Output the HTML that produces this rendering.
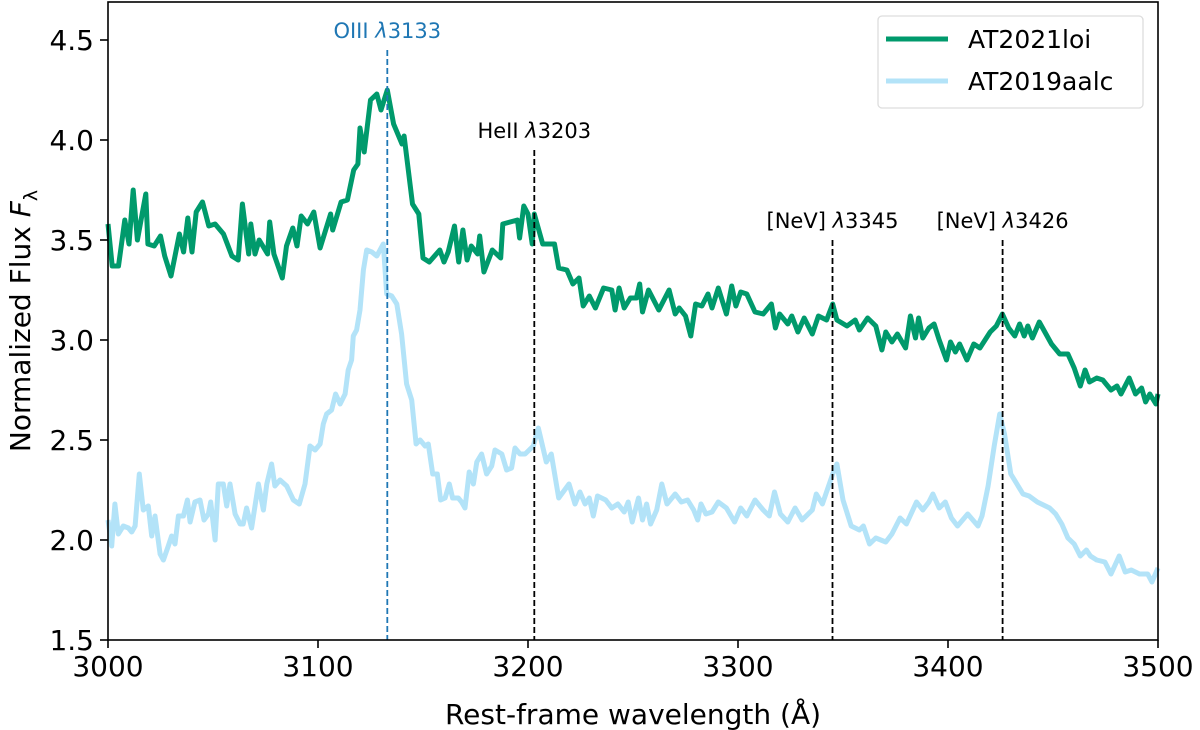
<!DOCTYPE html>
<html><head><meta charset="utf-8"><style>
html,body{margin:0;padding:0;background:#fff;}
svg{display:block;font-family:"DejaVu Sans","Liberation Sans",sans-serif;}
</style></head><body>
<svg id="chart" width="1200" height="730" viewBox="0 0 1200 730" xmlns="http://www.w3.org/2000/svg">
<g id="series"></g>
<g id="lines"></g>
<rect x="108" y="2" width="1050" height="638" fill="none" stroke="#000" stroke-width="1.6"/>
<g id="axes"></g>
<text x="633" y="724" font-size="28" text-anchor="middle">Rest-frame wavelength (Å)</text>
<text transform="translate(30,321) rotate(-90)" font-size="28" text-anchor="middle">Normalized Flux <tspan font-style="italic">F</tspan><tspan font-size="19" dy="7">λ</tspan></text>
<g>
<rect x="878" y="16" width="265" height="92" rx="4" fill="#fff" stroke="#ddd" stroke-width="1.3"/>
<line x1="886" y1="39" x2="948" y2="39" stroke="#009a6c" stroke-width="5"/>
<text x="968" y="48" font-size="25">AT2021loi</text>
<line x1="886" y1="81" x2="948" y2="81" stroke="#b3e3f8" stroke-width="5"/>
<text x="968" y="90" font-size="25">AT2019aalc</text>
</g>
</svg>
<script>
const xTicks=[3000,3100,3200,3300,3400,3500];
const yTicks=[1.5,2.0,2.5,3.0,3.5,4.0,4.5];
const yTickLabels=["1.5","2.0","2.5","3.0","3.5","4.0","4.5"];
const lineWaves=[3133,3203,3345,3426];
const lineNames=["OIII ","HeII ","[NeV] ","[NeV] "];
const lineNums=["3133","3203","3345","3426"];
const lineTops=[4.45,3.95,3.5,3.5];
const greenWave=[3000,3002,3005,3008,3010,3012,3014,3018,3019,3022,3025,3027,3030,3034,3036,3038,3040,3042,3045,3048,3051,3055,3059,3062,3064,3067,3068,3070,3072,3076,3077,3079,3083,3085,3088,3090,3092,3095,3098,3101,3106,3107,3111,3114,3117,3119,3120,3122,3125,3128,3130,3133,3136,3140,3141,3145,3148,3150,3153,3158,3160,3162,3165,3167,3169,3171,3173,3176,3177,3179,3183,3187,3188,3195,3196,3198,3200,3202,3203,3207,3212.6,3214.6,3218.5,3221.4,3224.3,3226.3,3229.2,3232.1,3236,3239.9,3241.5,3243.4,3245.8,3248.7,3251.6,3253.2,3254.5,3257.4,3262.3,3267.2,3270.1,3272,3275,3277.5,3279.8,3282.8,3285.7,3287.6,3290.6,3294.5,3297,3299,3301.3,3304.2,3308.1,3312,3315.9,3317.8,3319.8,3323.7,3325.6,3328.5,3331.5,3335.4,3338.3,3342.2,3345.1,3347.1,3351.9,3355.8,3357.8,3361.7,3365.6,3368.5,3370.4,3373.3,3375.9,3379.8,3382.1,3384.5,3386,3388,3390.9,3393.4,3395.8,3399.3,3401.2,3403.5,3405.5,3409,3412.3,3415.2,3420.1,3423,3425.9,3428.9,3431.8,3434.1,3436.3,3438,3440.2,3443.5,3449.3,3453.2,3457.1,3460.1,3463,3465.3,3467.4,3470.8,3473.7,3477.6,3480.5,3482.4,3486.3,3489.3,3492.2,3494.1,3496.1,3499,3500];
const greenFlux=[3.58,3.37,3.37,3.60,3.48,3.75,3.50,3.73,3.48,3.47,3.52,3.42,3.32,3.53,3.44,3.61,3.44,3.64,3.69,3.57,3.58,3.53,3.42,3.40,3.68,3.43,3.58,3.43,3.50,3.43,3.59,3.43,3.31,3.47,3.56,3.47,3.62,3.58,3.64,3.46,3.63,3.55,3.69,3.70,3.85,3.88,4.06,3.94,4.20,4.23,4.15,4.25,4.08,3.98,4.02,3.68,3.63,3.41,3.39,3.45,3.39,3.44,3.57,3.39,3.55,3.40,3.47,3.43,3.52,3.34,3.45,3.41,3.58,3.60,3.51,3.67,3.63,3.48,3.63,3.48,3.48,3.36,3.35,3.28,3.31,3.17,3.22,3.16,3.26,3.25,3.15,3.26,3.16,3.21,3.21,3.28,3.14,3.25,3.15,3.25,3.13,3.16,3.12,3.02,3.18,3.17,3.23,3.16,3.26,3.13,3.27,3.17,3.24,3.23,3.14,3.13,3.18,3.06,3.13,3.08,3.12,3.04,3.11,3.03,3.12,3.10,3.18,3.10,3.07,3.10,3.05,3.11,3.07,2.95,3.04,2.99,3.03,2.96,3.12,3.01,3.11,3.01,3.06,3.08,3.00,2.90,2.99,2.94,2.98,2.90,2.98,2.96,3.04,3.07,3.13,3.06,3.02,3.08,3.02,3.07,3.01,3.09,2.98,2.93,2.93,2.86,2.77,2.85,2.79,2.81,2.80,2.75,2.77,2.73,2.81,2.73,2.76,2.69,2.73,2.68,2.73];
const blueWave=[3000,3001.75,3003.3,3004.9,3007.3,3009.7,3011.3,3012.9,3014.9,3016.8,3019.2,3020.8,3022.4,3024.8,3026.4,3028.7,3030.3,3031.9,3033.5,3035.9,3037.8,3039.1,3041.4,3043.8,3045.7,3047.8,3048.9,3051,3052.5,3054.9,3056.5,3058.1,3060.5,3062.9,3064.4,3066,3068.4,3071.6,3074,3075.6,3077.9,3079.5,3081.9,3085.1,3088.3,3091.1,3093.8,3096.2,3098.6,3101,3102.5,3104.1,3106.5,3108.4,3110.5,3112.9,3114.4,3116,3116.8,3118.4,3120,3121.6,3123.2,3125.6,3128,3131.1,3132.7,3135.1,3137.5,3139.8,3142.2,3144.6,3146.7,3148.6,3151,3152.5,3154.6,3156.8,3158.4,3160.5,3162.5,3164.1,3166.8,3168.4,3170,3172,3174,3175.6,3177.9,3180.3,3182.7,3184.3,3187.5,3189.8,3192.2,3193.8,3196.2,3198.6,3202.5,3204.9,3208.7,3211.1,3214.6,3219.5,3222.4,3224.7,3227.2,3229.2,3231.1,3233.1,3237,3239.9,3242.8,3245.8,3247.7,3249.6,3252.6,3254.5,3256.5,3258.4,3261.3,3263.7,3266.2,3270.1,3273,3276,3278.9,3280.8,3282.4,3284.7,3287.6,3290.6,3294.5,3298.4,3301.3,3304.2,3308.1,3312,3314.9,3317.4,3320.2,3323.7,3327.2,3330.5,3335.4,3337.3,3340.2,3345.1,3347.1,3350,3353.9,3357.8,3359.7,3362.6,3365.6,3370.4,3373.3,3377.2,3380.2,3385,3388,3390.9,3392.8,3395.8,3398.7,3401.6,3404.5,3409.4,3414.3,3416.2,3419.1,3422,3424.6,3426.9,3429.9,3432.8,3435.7,3438.6,3442.5,3448.4,3451.3,3454.2,3457.1,3460.1,3463,3465.9,3467.8,3470.8,3474.7,3477.6,3481.5,3484.4,3487.3,3491.2,3495.1,3497.1,3500];
const blueFlux=[2.10,1.97,2.18,2.03,2.07,2.06,2.04,2.07,2.33,2.15,2.17,2.02,2.12,1.93,1.90,1.97,2.02,1.98,2.12,2.12,2.20,2.09,2.19,2.20,2.10,2.13,2.19,2.00,2.28,2.28,2.17,2.28,2.13,2.08,2.08,2.16,2.06,2.28,2.15,2.28,2.38,2.27,2.30,2.27,2.20,2.18,2.28,2.47,2.45,2.48,2.58,2.63,2.65,2.73,2.68,2.73,2.85,2.90,3.02,3.05,3.15,3.35,3.45,3.44,3.42,3.48,3.23,3.22,3.18,3.03,2.78,2.70,2.48,2.50,2.47,2.48,2.33,2.33,2.20,2.21,2.28,2.21,2.21,2.19,2.16,2.34,2.28,2.39,2.43,2.33,2.37,2.45,2.43,2.35,2.36,2.46,2.43,2.43,2.47,2.56,2.39,2.43,2.21,2.28,2.18,2.24,2.18,2.21,2.12,2.22,2.20,2.16,2.18,2.14,2.19,2.09,2.21,2.10,2.18,2.08,2.15,2.28,2.18,2.23,2.19,2.20,2.15,2.10,2.18,2.13,2.14,2.19,2.16,2.09,2.16,2.12,2.20,2.15,2.12,2.24,2.13,2.09,2.16,2.10,2.15,2.23,2.18,2.33,2.38,2.20,2.07,2.05,2.07,1.98,2.01,1.99,2.03,2.11,2.08,2.19,2.15,2.19,2.23,2.16,2.19,2.11,2.07,2.13,2.07,2.12,2.27,2.47,2.63,2.53,2.33,2.28,2.23,2.22,2.19,2.16,2.13,2.08,2.01,1.98,1.92,1.95,1.92,1.90,1.89,1.83,1.92,1.84,1.85,1.83,1.83,1.79,1.86];

const NS="http://www.w3.org/2000/svg";
const X0=108,X1=1158,Y0=640;
function xs(w){return X0+(w-3000)/500*(X1-X0);}
function ys(v){return Y0-(v-1.5)*200;}
function mk(tag,attrs,parent){const e=document.createElementNS(NS,tag);for(const k in attrs)e.setAttribute(k,attrs[k]);parent.appendChild(e);return e;}
const axes=document.getElementById('axes');
xTicks.forEach(t=>{
  const l=mk('line',{x1:xs(t),x2:xs(t),y1:Y0,y2:Y0+8,stroke:'#000','stroke-width':1.6},axes);
  
  
  const tx=mk('text',{x:xs(t),y:Y0+36,'font-size':28,'text-anchor':'middle'},axes);
  tx.textContent=String(t);
  
  
});
yTicks.forEach((t,i)=>{
  const l=mk('line',{x1:X0-8,x2:X0,y1:ys(t),y2:ys(t),stroke:'#000','stroke-width':1.6},axes);
  
  
  const tx=mk('text',{x:X0-14,y:ys(t)+10,'font-size':28,'text-anchor':'end'},axes);
  tx.textContent=yTickLabels[i];
  
  
});
const ser=document.getElementById('series');
function path(wv,fl){return wv.map((w,i)=>(i?'L':'M')+xs(w).toFixed(1)+' '+ys(fl[i]).toFixed(1)).join(' ');}
const pb=mk('path',{d:path(blueWave,blueFlux),fill:'none',stroke:'#b3e3f8','stroke-width':5,'stroke-linejoin':'round'},ser);


const pg=mk('path',{d:path(greenWave,greenFlux),fill:'none',stroke:'#009a6c','stroke-width':5,'stroke-linejoin':'round'},ser);


const lg=document.getElementById('lines');
lineWaves.forEach((w,i)=>{
  const c=i===0?'#1f77b4':'#000';
  const l=mk('line',{x1:xs(w),x2:xs(w),y1:ys(lineTops[i]),y2:Y0,stroke:c,'stroke-width':1.8,'stroke-dasharray':'6,3'},lg);
  
  
  const tx=mk('text',{x:xs(w),y:ys(lineTops[i])-12,'font-size':21,'text-anchor':'middle',fill:c},lg);
  
  
  const a=mk('tspan',{},tx); a.textContent=lineNames[i];
  const b=mk('tspan',{'font-style':'italic'},tx); b.textContent='λ';
  const d=mk('tspan',{},tx); d.textContent=lineNums[i];
});
</script>
</body></html>
